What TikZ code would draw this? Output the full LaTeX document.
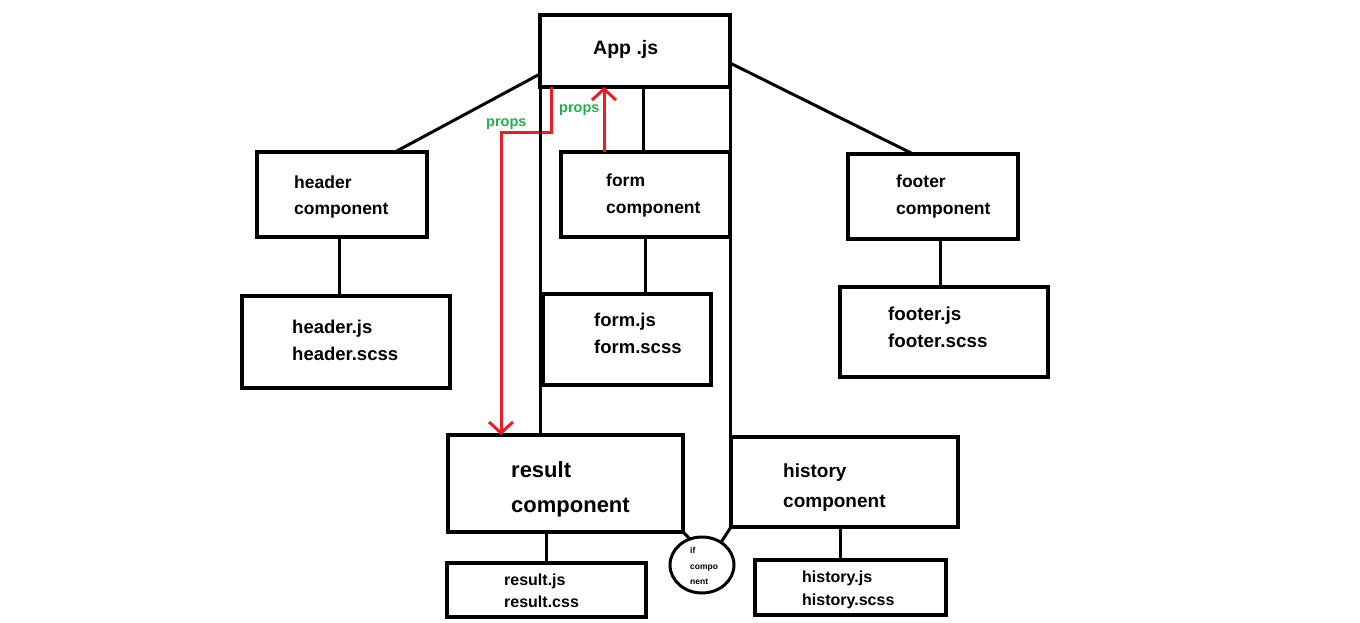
\documentclass[tikz,border=0pt]{standalone}
\usepackage{fontspec}
\setmainfont{Liberation Sans}
\usetikzlibrary{arrows.meta,shapes.geometric}
\definecolor{pred}{HTML}{ED1C24}
\definecolor{pgreen}{HTML}{22B14C}
\begin{document}
\begin{tikzpicture}[x=1pt,y=-1pt,
  box/.style={draw, rectangle, line width=3.5pt, inner sep=0pt, outer sep=0pt, anchor=north west},
  conn/.style={line width=3pt},
  redarr/.style={draw=pred, line width=3pt, -{Straight Barb[length=11pt,width=24pt]}},
  txt/.style={anchor=base west, inner sep=0pt, font=\bfseries\fontsize{#1}{#1}\selectfont},
  props/.style={anchor=base west, inner sep=0pt, text=pgreen, font=\bfseries\fontsize{14.5}{15}\selectfont}]
\useasboundingbox (0,0) rectangle (1360,623);
% boxes
\node[box, minimum width=190, minimum height=72] (app) at (540,15) {};
\node[box, minimum width=170, minimum height=85] (hdr) at (257,152) {};
\node[box, minimum width=208, minimum height=92] (hjs) at (242,296) {};
\node[box, minimum width=169, minimum height=85] (form) at (561,152) {};
\node[box, minimum width=168, minimum height=91] (fjs) at (543,294) {};
\node[box, minimum width=170, minimum height=85] (ftr) at (848,154) {};
\node[box, minimum width=208, minimum height=90] (ftjs) at (840,287) {};
\node[box, minimum width=235, minimum height=97] (res) at (448,435) {};
\node[box, minimum width=199, minimum height=54] (rjs) at (447,563) {};
\node[box, minimum width=227, minimum height=90] (hist) at (731,437) {};
\node[box, minimum width=191, minimum height=55] (hsjs) at (755,560) {};
\node[draw, ellipse, line width=3pt, inner sep=0pt, outer sep=0pt, minimum width=64, minimum height=56] (ifc) at (702,565) {};
% texts
\node[txt=19.5] (app-t) at (593,55) {App .js};
\node[txt=17.5] (hdr-t1) at (294,188) {header};
\node[txt=17.5] (hdr-t2) at (294,214) {component};
\node[txt=18.5] (hjs-t1) at (292,333) {header.js};
\node[txt=18.5] (hjs-t2) at (292,360) {header.scss};
\node[txt=17.5] (form-t1) at (606,186) {form};
\node[txt=17.5] (form-t2) at (606,213) {component};
\node[txt=18.5] (fjs-t1) at (594,326) {form.js};
\node[txt=18.5] (fjs-t2) at (594,353) {form.scss};
\node[txt=17.5] (ftr-t1) at (896,187) {footer};
\node[txt=17.5] (ftr-t2) at (896,214) {component};
\node[txt=18.8] (ftjs-t1) at (888,320) {footer.js};
\node[txt=18.8] (ftjs-t2) at (888,347) {footer.scss};
\node[txt=22] (res-t1) at (511,477) {result};
\node[txt=22] (res-t2) at (511,512) {component};
\node[txt=16] (rjs-t1) at (504,585) {result.js};
\node[txt=16] (rjs-t2) at (504,607) {result.css};
\node[txt=19] (hist-t1) at (783,477) {history};
\node[txt=19] (hist-t2) at (783,507) {component};
\node[txt=16] (hsjs-t1) at (802,582) {history.js};
\node[txt=16] (hsjs-t2) at (802,605) {history.scss};
\node[txt=8.5] (ifc-t1) at (690,553) {if};
\node[txt=8.5] (ifc-t2) at (690,569) {compo};
\node[txt=8.5] (ifc-t3) at (690,584) {nent};
\node[props] (props1) at (486,127) {props};
\node[props] (props2) at (559,113) {props};
% red arrows
\draw[redarr] ([xshift=11]app.south west) -- ++(0,46) -| ([xshift=53]res.north west);
\draw[redarr] ([xshift=-41.5]form.north) -- ([xshift=-41.5]form.north |- app.south);
% connectors
\draw[conn] ([yshift=13]app.south west) -- ([xshift=53]hdr.north);
\draw[conn] ([yshift=24]app.south east) -- ([xshift=-20]ftr.north);
\draw[conn] (app.south west) -- (app.south west |- res.north);
\draw[conn] (app.south east) -- (app.south east |- hist.north);
\draw[conn] ([xshift=8]app.south) -- ([xshift=8]app.south |- form.north);
\draw[conn] ([xshift=-3]hdr.south) -- ([xshift=-3]hdr.south |- hjs.north);
\draw[conn] (form.south) -- (form.south |- fjs.north);
\draw[conn] ([xshift=7]ftr.south) -- ([xshift=7]ftr.south |- ftjs.north);
\draw[conn] ([xshift=-19.5]res.south) -- ([xshift=-19.5]res.south |- rjs.north);
\draw[conn] ([xshift=-4.5]hist.south) -- ([xshift=-4.5]hist.south |- hsjs.north);
\draw[conn] (res.south east) -- (ifc.115);
\draw[conn] (hist.south west) -- (ifc.50);
\end{tikzpicture}
\end{document}
